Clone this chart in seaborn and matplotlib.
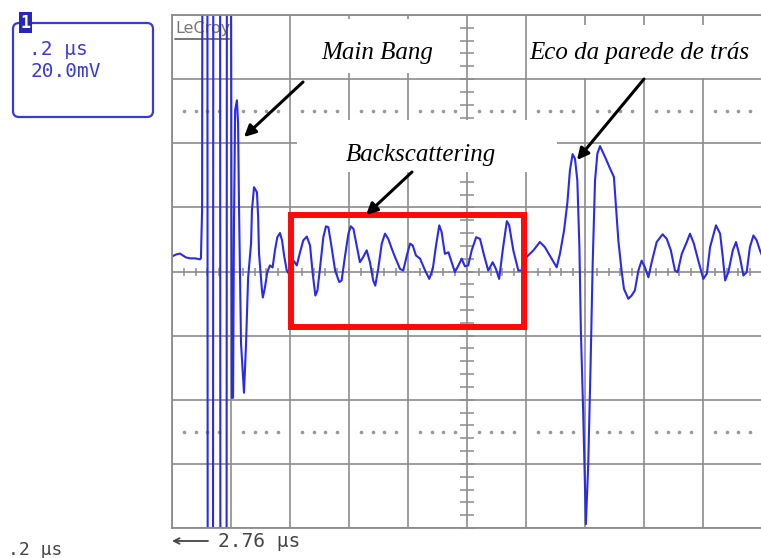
import matplotlib
matplotlib.use("Agg")
import matplotlib.pyplot as plt
from matplotlib.patches import Rectangle, FancyBboxPatch
from matplotlib.transforms import Affine2D
import seaborn as sns
import pandas as pd
import numpy as np

# ---------------- data (time in µs, amplitude in mV) ----------------
time_us = [
    # baseline + main bang
    0.000, 0.014, 0.027, 0.037, 0.047, 0.061, 0.078, 0.095, 0.098, 0.102,
    0.103, 0.120, 0.121, 0.139, 0.140, 0.163, 0.164, 0.185, 0.186, 0.200,
    0.203, 0.207, 0.210, 0.214, 0.220, 0.224, 0.227, 0.234, 0.244, 0.251,
    0.258, 0.268, 0.271, 0.278, 0.288, 0.292, 0.295, 0.305, 0.308,
    # backscattering, first half
    0.315, 0.323, 0.332, 0.341, 0.349, 0.357, 0.366, 0.373, 0.380, 0.389,
    0.396, 0.406, 0.414, 0.423, 0.434, 0.445, 0.457, 0.468, 0.477, 0.486,
    0.493, 0.502, 0.513, 0.522, 0.530, 0.541, 0.553, 0.567, 0.575, 0.586,
    0.598, 0.606, 0.615, 0.626, 0.637, 0.648, 0.660, 0.671, 0.682, 0.689,
    0.699, 0.711, 0.722, 0.733, 0.745, 0.756, 0.773,
    # backscattering, second half
    0.784, 0.796, 0.807, 0.816, 0.827, 0.841, 0.858, 0.872, 0.884, 0.895,
    0.906, 0.914, 0.925, 0.937, 0.948, 0.959, 0.971, 0.982, 0.993, 1.004,
    1.016, 1.031, 1.044, 1.058, 1.072, 1.087, 1.098, 1.109, 1.121, 1.135,
    1.143, 1.157, 1.174, 1.185, 1.202,
    # back-wall echo
    1.225, 1.247, 1.264, 1.287, 1.304, 1.315, 1.329, 1.340, 1.349, 1.358,
    1.366, 1.374, 1.381, 1.386, 1.394, 1.403, 1.411, 1.419, 1.426, 1.434,
    1.442, 1.451, 1.468, 1.485, 1.498, 1.505,
    # tail
    1.513, 1.524, 1.532, 1.547, 1.558, 1.569, 1.581, 1.592, 1.603, 1.615,
    1.626, 1.643, 1.663, 1.677, 1.691, 1.705, 1.714, 1.728, 1.745, 1.756,
    1.769, 1.784, 1.801, 1.813, 1.824, 1.844, 1.858, 1.867, 1.875, 1.886,
    1.901, 1.912, 1.925, 1.937, 1.948, 1.959, 1.971, 1.982, 1.993, 2.000]
voltage_mV = [
    4.7, 5.3, 5.6, 5.0, 4.4, 4.1, 4.1, 3.8, 4.1, 19.1,
    100, 100, -100, -100, 100, 100, -100, -100, 100, 100,
    -39.4, -39.4, 13.8, 50.3, 53.4, 46.3, 21.3, -22.5, -37.8, -22.5,
    -1.9, 8.8, 19.1, 26.3, 24.7, 16.9, 5.6, -5.9, -8.1,
    -5.0, -0.2, 1.9, 1.25, 6.6, 10.7, 12.0, 9.7, 5.0, 0.3,
    -0.7, 1.9, 3.2, 1.9, 6.0, 9.7, 10.9, 8.1, -0.7, -7.5,
    -5.9, 1.3, 10.7, 14.1, 13.8, 7.6, 0.3, -3.3, -2.8, 4.5,
    11.8, 14.1, 13.3, 8.1, 2.9, 4.5, 6.6, 2.9, -2.8, -4.4,
    0.8, 8.7, 11.8, 10.2, 7.1, 4.5, 0.8,
    0.3, 5.0, 8.7, 8.1, 5.0, 4.0, 0.3, -2.3, 0.8, 8.1,
    14.4, 12.3, 5.5, 6.0, 2.9, -0.2, 1.9, 4.0, 1.6, 1.9,
    6.6, 10.7, 10.2, 5.0, 0.3, 2.9, 0.8, -2.3, 6.6, 15.7,
    14.4, 6.6, 0.3, 0.3, 4.5,
    6.6, 9.2, 7.6, 4.0, 1.3, 5.5, 12.8, 21.2, 31.6, 36.6,
    35.2, 28.4, 7.6, -18.4, -44.5, -78.8, -60.1, -28.8, 2.4, 28.4,
    36.8, 39.1, 35.7, 32.1, 29.5, 20.1,
    9.7, 0.3, -5.4, -8.5, -7.5, -5.9, 0.3, 3.4, 1.3, -1.8,
    2.9, 9.2, 11.6, 10.2, 6.6, 0.3, -0.2, 5.5, 9.2, 11.8,
    8.7, 3.4, -2.3, -0.7, 7.6, 14.4, 11.8, 4.5, -2.8, -0.2,
    6.6, 9.2, 4.5, -1.25, -0.2, 7.6, 11.25, 9.7, 6.6, 5.0]

time_per_div = 0.2      # µs/div
volt_per_div = 20.0     # mV/div
n_xdiv, n_ydiv = 10, 8

label_main = "Main Bang"
label_back = "Backscattering"
label_echo = "Eco da parede de trás"
scope_timebase = ".2 µs"
scope_volts = "20.0mV"
scope_channel = "1"
scope_delay = "2.76 µs"
brand = "LeCroy"

# backscattering window (µs, mV)
window_t = [0.403, 1.193]
window_v = [-17.2, 17.5]

# ---------------- figure ----------------
sns.set_style("white")
plt.rcParams['font.family'] = ['DejaVu Sans']

W, H = 761, 558
fig = plt.figure(figsize=(W / 100, H / 100), dpi=100)
pix = Affine2D().scale(1 / W, -1 / H).translate(0, 1) + fig.transFigure

ax = fig.add_axes([172 / W, 30 / H, 590 / W, 513 / H])
ax.set_facecolor("white")
xmax = n_xdiv * time_per_div
ymax = n_ydiv / 2 * volt_per_div
ax.set_xlim(0, xmax)
ax.set_ylim(-ymax, ymax)

grid_col = "#8c8c8c"
ax.set_xticks(np.arange(0, xmax + 1e-9, time_per_div))
ax.set_yticks(np.arange(-ymax, ymax + 1e-9, volt_per_div))
ax.grid(True, color=grid_col, lw=1.2)
ax.tick_params(length=0, labelbottom=False, labelleft=False)
for s in ax.spines.values():
    s.set_color(grid_col)
    s.set_linewidth(1.3)
ax.spines["right"].set_visible(False)

# minor ticks on the center cross
minor_t = np.arange(0, xmax + 1e-9, time_per_div / 5)
minor_v = np.arange(-ymax, ymax + 1e-9, volt_per_div / 5)
ax.plot(minor_t, np.zeros_like(minor_t), ls="none", marker="|", ms=6,
        mew=1.1, color=grid_col, zorder=0.8)
ax.plot(np.full_like(minor_v, xmax / 2), minor_v, ls="none", marker="_", ms=10,
        mew=1.1, color=grid_col, zorder=0.8)
# dotted lines at +-2.5 div
dot_t = np.array([t for i, t in enumerate(minor_t) if i % 5 != 0])
for lv in (2.5 * volt_per_div, -2.5 * volt_per_div):
    ax.plot(dot_t, np.full_like(dot_t, lv), ls="none", marker="o", ms=1.6,
            color="#9a9a9a", zorder=0.8)

# white label backgrounds (pixel coords)
for (x0, y0, x1, y1) in [(295, 19, 460, 73), (297, 120, 557, 172), (529, 25, 765, 78)]:
    ax.add_patch(Rectangle((x0, y0), x1 - x0, y1 - y0, transform=pix,
                           facecolor="white", edgecolor="none", zorder=1))

# brand logo (under the trace)
ax.text(175, 33, brand, transform=pix, fontsize=11.5, color="#777777",
        ha="left", va="baseline", zorder=1.5)
ax.plot([175, 229], [38.5, 38.5], transform=pix, color="#777777", lw=1.4,
        zorder=1.5, clip_on=False)

# trace
df = pd.DataFrame({"t": time_us, "v": voltage_mV})
sns.lineplot(data=df, x="t", y="v", ax=ax, sort=False, estimator=None,
             color="#2b2be6", lw=1.5, zorder=2)
ax.set_xlabel("")
ax.set_ylabel("")

# red window
ax.add_patch(Rectangle((window_t[0], window_v[0]), window_t[1] - window_t[0],
                       window_v[1] - window_v[0], fill=False,
                       edgecolor="#ff0a0a", lw=4.3, zorder=3))

# annotation texts and arrows
tfont = dict(family="Liberation Serif", style="italic", fontsize=18,
             color="black", ha="center", va="baseline", zorder=4)
ax.text(377, 59, label_main, transform=pix, **tfont)
ax.text(420.5, 161, label_back, transform=pix, **tfont)
ax.text(639.5, 59, label_echo, transform=pix, **tfont)

aprops = dict(arrowstyle="-|>", lw=2.2, color="black", mutation_scale=17,
              shrinkA=0, shrinkB=0)
for tail, head in [((303, 82), (244, 137)), ((412, 172), (366, 215)),
                   ((644, 79), (577, 160))]:
    ax.annotate("", xy=head, xycoords=pix, xytext=tail, textcoords=pix,
                arrowprops=aprops, zorder=4)

# scope info box (top-left)
blue = "#3a3ad8"
box = FancyBboxPatch((13, 23), 140, 94, boxstyle="round,pad=0,rounding_size=6",
                     transform=pix, facecolor="white", edgecolor=blue, lw=1.6)
fig.add_artist(box)
tab = Rectangle((19, 12), 13, 21, transform=pix, facecolor="#2626b8",
                edgecolor="none")
fig.add_artist(tab)
fig.text(25.5, 23, scope_channel, transform=pix, color="white", fontsize=12,
         fontweight="bold", family="DejaVu Sans Mono", ha="center", va="center")
fig.text(29, 55, scope_timebase, transform=pix, color=blue, fontsize=14,
         family="DejaVu Sans Mono", ha="left", va="baseline")
fig.text(30, 77, scope_volts, transform=pix, color=blue, fontsize=14,
         family="DejaVu Sans Mono", ha="left", va="baseline")

# bottom labels
dark = "#454545"
fig.text(8, 555, scope_timebase, transform=pix, color=dark, fontsize=13,
         family="DejaVu Sans Mono", ha="left", va="baseline")
fig.text(218, 547, scope_delay, transform=pix, color=dark, fontsize=14,
         family="DejaVu Sans Mono", ha="left", va="baseline")
ax.annotate("", xy=(172, 541), xycoords=pix, xytext=(208, 541), textcoords=pix,
            arrowprops=dict(arrowstyle="->", lw=1.3, color=dark,
                            shrinkA=0, shrinkB=0, mutation_scale=10))

fig.savefig("out.png", dpi=100)
